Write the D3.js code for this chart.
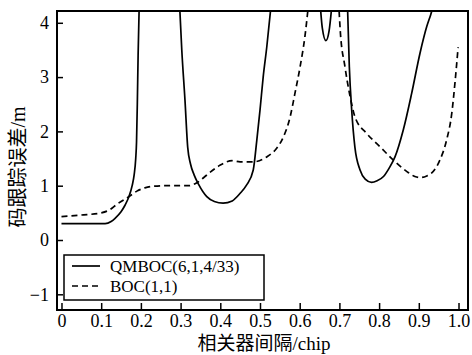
<!DOCTYPE html>
<html lang="zh">
<head>
<meta charset="UTF-8">
<title>码跟踪误差</title>
<script src="https://d3js.org/d3.v7.min.js"></script>
<style>
  body { margin: 0; background: #fff; }
  svg text { font-family: "Liberation Serif", "Noto Sans CJK SC", serif; fill: #000; }
</style>
</head>
<body>
<div id="chart"></div>
<script>
// tick values
const xTicks = [0, 0.1, 0.2, 0.3, 0.4, 0.5, 0.6, 0.7, 0.8, 0.9, 1.0];
const yTicks = [-1, 0, 1, 2, 3, 4];

// QMBOC(6,1,4/33) - solid, broken where it leaves the top of the plot
const qmbocSegs = [
  [[0,0.3],[0.05,0.3],[0.1,0.3],[0.11,0.3],[0.125,0.34],[0.135,0.4],[0.15,0.52],[0.16,0.64],
   [0.17,0.8],[0.178,1.0],[0.183,1.2],[0.187,1.5],[0.189,1.8],[0.191,2.5],[0.193,3.4],[0.196,4.4]],
  [[0.297,4.4],[0.303,3.5],[0.311,2.58],[0.318,1.7],[0.325,1.4],[0.334,1.2],[0.345,1.03],[0.366,0.8],
   [0.385,0.71],[0.407,0.68],[0.43,0.72],[0.45,0.86],[0.466,1.01],[0.483,1.29],[0.492,1.84],
   [0.5,2.39],[0.508,3.0],[0.517,3.55],[0.529,4.4]],
  [[0.651,4.4],[0.657,3.9],[0.666,3.67],[0.674,3.85],[0.682,4.4]],
  [[0.72,4.4],[0.725,3.19],[0.731,2.39],[0.739,1.71],[0.752,1.29],[0.765,1.12],[0.781,1.06],
   [0.795,1.09],[0.811,1.17],[0.825,1.32],[0.84,1.53],[0.861,2.03],[0.882,2.7],[0.903,3.44],
   [0.92,3.93],[0.93,4.15],[0.94,4.4]]
];

// BOC(1,1) - dashed
const bocSegs = [
  [[0,0.43],[0.05,0.46],[0.1,0.5],[0.12,0.55],[0.14,0.66],[0.17,0.8],[0.19,0.9],[0.21,0.96],
   [0.23,0.99],[0.26,1.0],[0.32,1.0],[0.34,1.05],[0.36,1.16],[0.38,1.28],[0.40,1.38],[0.43,1.46],
   [0.45,1.44],[0.483,1.44],[0.517,1.53],[0.542,1.69],[0.559,1.9],[0.576,2.27],[0.588,2.7],
   [0.601,3.19],[0.613,3.74],[0.623,4.4]],
  [[0.698,4.4],[0.702,3.87],[0.714,3.19],[0.727,2.64],[0.739,2.27],[0.769,1.96],[0.802,1.72],
   [0.836,1.47],[0.87,1.26],[0.89,1.17],[0.903,1.15],[0.92,1.18],[0.932,1.23],[0.953,1.47],
   [0.97,1.84],[0.983,2.33],[0.991,2.89],[0.999,3.55]]
];

const legendLabels = ["QMBOC(6,1,4/33)", "BOC(1,1)"];

const W = 472, H = 355;
const L = 57, R = 468, T = 11, B = 310;

const svg = d3.select("#chart").append("svg")
  .attr("width", W).attr("height", H);

const x = d3.scaleLinear().domain([-0.0113, 1.0239]).range([L, R]);
const y = d3.scaleLinear().domain([-1.289, 4.217]).range([B, T]);

svg.append("clipPath").attr("id", "plot")
  .append("rect").attr("x", L).attr("y", T).attr("width", R - L).attr("height", B - T);

const line = d3.line().x(d => x(d[0])).y(d => y(d[1])).curve(d3.curveMonotoneX);

const curves = svg.append("g").attr("clip-path", "url(#plot)");
qmbocSegs.forEach(s => curves.append("path").attr("d", line(s))
  .attr("fill", "none").attr("stroke", "#000").attr("stroke-width", 1.7));
bocSegs.forEach(s => curves.append("path").attr("d", line(s))
  .attr("fill", "none").attr("stroke", "#000").attr("stroke-width", 1.7)
  .attr("stroke-dasharray", "6,4"));

// axes, ticks pointing inward
const xAxis = svg.append("g").attr("transform", `translate(0,${B})`)
  .call(d3.axisBottom(x).tickValues(xTicks).tickSize(-7).tickPadding(3)
    .tickFormat(d => d === 0 ? "0" : d3.format(".1f")(d)));
const yAxis = svg.append("g").attr("transform", `translate(${L},0)`)
  .call(d3.axisLeft(y).tickValues(yTicks).tickSize(-6).tickPadding(8)
    .tickFormat(d3.format("d")));
[xAxis, yAxis].forEach(a => {
  a.select(".domain").remove();
  a.selectAll("line").attr("stroke", "#000").attr("stroke-width", 1.5);
  a.selectAll("text").style("font-size", "18px").style("font-family", null);
});
xAxis.selectAll("text").attr("dy", "0.75em");

svg.append("rect").attr("x", L).attr("y", T).attr("width", R - L).attr("height", B - T)
  .attr("fill", "none").attr("stroke", "#000").attr("stroke-width", 2);

// legend
const lg = svg.append("g");
lg.append("rect").attr("x", 64).attr("y", 255).attr("width", 200).attr("height", 45)
  .attr("fill", "#fff").attr("stroke", "#000").attr("stroke-width", 1.5);
legendLabels.forEach((t, i) => {
  const yy = 266 + i * 20;
  lg.append("line").attr("x1", 72).attr("x2", 100).attr("y1", yy).attr("y2", yy)
    .attr("stroke", "#000").attr("stroke-width", 1.7)
    .attr("stroke-dasharray", i === 1 ? "6,4" : null);
  lg.append("text").attr("x", 110).attr("y", yy).attr("dy", "0.35em")
    .style("font-size", "17px").text(t);
});

// axis titles
svg.append("text").attr("x", 264).attr("y", 350).attr("text-anchor", "middle")
  .style("font-size", "19px").text("相关器间隔/chip");
svg.append("text").attr("transform", "translate(25,167) rotate(-90)")
  .attr("text-anchor", "middle").style("font-size", "20px").text("码跟踪误差/m");
</script>
</body>
</html>
